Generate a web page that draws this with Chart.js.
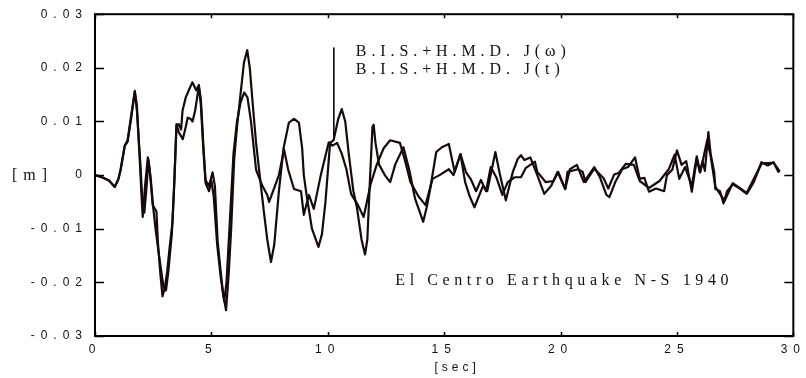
<!DOCTYPE html>
<html>
<head>
<meta charset="utf-8">
<script src="https://cdn.jsdelivr.net/npm/chart.js@4"></script>
<style>
  html, body { margin: 0; padding: 0; background: #fff; }
  #wrap { width: 806px; height: 378px; }
</style>
</head>
<body>
<div id="wrap"><canvas id="myChart"></canvas></div>
<script>
// displacement [m] vs time [sec]
const timeW = [
  0, 0.3, 0.6, 0.85, 1.0, 1.1, 1.28, 1.4, 1.55, 1.71,
  1.8, 1.92, 2.0, 2.05, 2.15, 2.27, 2.35, 2.48, 2.64, 2.7,
  2.8, 2.9, 3.0, 3.1, 3.2, 3.33, 3.42, 3.5, 3.6, 3.7,
  3.76, 3.9, 4.05, 4.18, 4.35, 4.46, 4.55, 4.65, 4.75, 4.9,
  5.05, 5.15, 5.27, 5.4, 5.5, 5.63, 5.75, 5.85, 5.98, 6.1,
  6.25, 6.4, 6.54, 6.65, 6.8, 6.92, 7.1, 7.26, 7.4, 7.56,
  7.7, 7.9, 8.1, 8.33, 8.55, 8.76, 8.9, 8.97, 9.1, 9.32,
  9.6, 9.75, 9.9, 10.1, 10.25, 10.45, 10.6, 10.75, 10.9, 11.1,
  11.25, 11.45, 11.6, 11.7, 11.8, 11.92, 11.97, 12.05, 12.2, 12.45,
  12.68, 12.9, 13.25, 13.5, 13.75, 14.1, 14.25, 14.4, 14.66, 14.9,
  15.2, 15.45, 15.7, 15.9, 16.1, 16.3, 16.67, 16.85, 17.2, 17.4,
  17.65, 17.95, 18.16, 18.3, 18.45, 18.7, 19.0, 19.3, 19.6, 19.87,
  20.2, 20.4, 20.7, 21.0, 21.45, 21.7, 21.97, 22.1, 22.35, 22.65,
  22.9, 23.2, 23.4, 23.6, 23.8, 24.1, 24.45, 24.57, 24.8, 25.0,
  25.2, 25.4, 25.64, 25.85, 25.98, 26.1, 26.2, 26.35, 26.45, 26.6,
  26.65, 26.85, 27.0, 27.15, 27.4, 27.7, 28.0, 28.3, 28.5, 28.63,
  28.9, 29.15, 29.36
];
const dispW = [
  0, -0.0004, -0.001, -0.0022, -0.0008, 0.001, 0.0055, 0.0065, 0.011, 0.0157,
  0.013, 0.003, -0.004, -0.0078, -0.002, 0.0033, 0.001, -0.0056, -0.0068, -0.0124,
  -0.018, -0.0226, -0.021, -0.018, -0.0137, -0.0087, 0, 0.0092, 0.0095, 0.0085,
  0.012, 0.0145, 0.016, 0.0173, 0.0158, 0.0168, 0.014, 0.006, -0.001, -0.002,
  0.0005, -0.002, -0.0124, -0.018, -0.022, -0.0252, -0.018, -0.01, 0.003, 0.009,
  0.015, 0.021, 0.0233, 0.02, 0.012, 0.006, -0.001, -0.007, -0.012, -0.0162,
  -0.013, -0.003, 0.005, 0.0098, 0.0105, 0.0098, 0.005, 0, -0.004, -0.01,
  -0.0134, -0.011, -0.005, 0.006, 0.0065, 0.0105, 0.0123, 0.01, 0.004, -0.003,
  -0.006, -0.012, -0.0148, -0.012, -0.002, 0.009, 0.0094, 0.006, 0.002, 0,
  -0.0013, 0.002, 0.0052, 0.001, -0.0044, -0.0087, -0.006, -0.0026, 0.0043, 0.0052,
  0.0058, 0.0006, 0.0039, -0.0013, -0.004, -0.006, -0.002, -0.003, 0.0043, 0,
  -0.0047, 0.0006, 0.003, 0.0037, 0.0028, 0.0033, 0, -0.0035, -0.002, 0.0006,
  -0.0026, 0.0011, 0.0019, -0.0013, 0.0015, -0.0005, -0.0037, -0.0041, -0.0013, 0.0011,
  0.0015, 0.0033, -0.0007, -0.0005, -0.0031, -0.0025, -0.003, 0, 0.001, 0.0046,
  0.0019, 0.0026, -0.0031, 0.003, 0.0006, 0.0025, 0.0008, 0.008, 0.0039, 0.0006,
  -0.0026, -0.003, -0.0053, -0.003, -0.0017, -0.0025, -0.0035, -0.0013, 0.0009, 0.0024,
  0.0018, 0.0024, 0.0006
];

const timeT = [
  0, 0.3, 0.6, 0.85, 1.0, 1.1, 1.28, 1.4, 1.55, 1.71,
  1.8, 1.95, 2.05, 2.12, 2.2, 2.3, 2.4, 2.5, 2.6, 2.75,
  2.95, 3.05, 3.15, 3.3, 3.4, 3.5, 3.6, 3.77, 3.9, 3.98,
  4.1, 4.19, 4.3, 4.46, 4.55, 4.65, 4.75, 4.9, 5.0, 5.1,
  5.25, 5.4, 5.55, 5.65, 5.8, 5.95, 6.1, 6.25, 6.41, 6.55,
  6.7, 6.92, 7.18, 7.4, 7.48, 7.65, 7.9, 8.12, 8.3, 8.55,
  8.85, 8.97, 9.19, 9.4, 9.7, 10.04, 10.2, 10.4, 10.6, 10.8,
  11.0, 11.3, 11.54, 11.84, 12.1, 12.4, 12.68, 13.1, 13.3, 13.55,
  13.9, 14.2, 14.5, 14.8, 15.2, 15.4, 15.7, 15.94, 16.15, 16.37,
  16.58, 16.8, 17.0, 17.25, 17.5, 17.73, 18.03, 18.3, 18.5, 18.9,
  19.0, 19.36, 19.7, 19.9, 20.2, 20.3, 20.75, 20.95, 21.07, 21.45,
  21.85, 22.05, 22.3, 22.5, 22.8, 23.15, 23.4, 23.8, 24.25, 24.65,
  24.9, 25.1, 25.35, 25.64, 25.85, 26.0, 26.3, 26.45, 26.65, 27.05,
  27.4, 28.0, 28.5, 28.65, 29.15, 29.4
];
const dispT = [
  0, -0.0004, -0.001, -0.0022, -0.0008, 0.001, 0.0055, 0.0062, 0.0105, 0.0155,
  0.012, 0.002, -0.006, -0.007, -0.003, 0.0028, -0.001, -0.006, -0.01, -0.015,
  -0.021, -0.0215, -0.018, -0.011, -0.002, 0.0095, 0.008, 0.0067, 0.009, 0.0107,
  0.0105, 0.01, 0.012, 0.0165, 0.013, 0.005, -0.0015, -0.003, -0.001, -0.004,
  -0.013, -0.019, -0.0235, -0.02, -0.008, 0.004, 0.01, 0.0135, 0.0154, 0.0145,
  0.01, 0.001, -0.0019, -0.0037, -0.005, -0.003, 0, 0.0048, 0.001, -0.0026,
  -0.003, -0.0074, -0.0037, -0.0063, 0, 0.0061, 0.0055, 0.006, 0.004, 0.0011,
  -0.0035, -0.0056, -0.0078, -0.0017, 0.0019, 0.005, 0.0065, 0.006, 0.003, -0.0013,
  -0.004, -0.0056, -0.0007, 0, 0.0011, 0, 0.0039, 0.0005, -0.0008, -0.003,
  -0.0009, -0.003, 0.0015, -0.0005, -0.0037, -0.0013, -0.0004, -0.0004, 0.0013, 0.0025,
  0.0006, -0.0013, -0.0011, 0.0006, -0.0026, 0.0006, 0.0011, 0.0006, -0.0013, 0.0012,
  -0.0006, -0.0025, 0.0001, 0.0004, 0.0021, 0.0019, -0.0011, -0.0024, -0.0011, 0.0011,
  0.0038, -0.0007, 0.0015, -0.002, 0.0035, 0.0005, 0.0065, 0.0035, -0.0022, -0.0048,
  -0.0015, -0.0033, 0.001, 0.0022, 0.0023, 0.0008
];

// the short vertical stroke next to the legend
const markT = [10.26, 10.26];
const markY = [0.0237, 0.0069];

const xTicks = [0, 5, 10, 15, 20, 25, 30];
const yTicks = [-0.03, -0.02, -0.01, 0, 0.01, 0.02, 0.03];
const seriesNames = ['B.I.S.+H.M.D. J(\u03c9)', 'B.I.S.+H.M.D. J(t)'];
const noteText = 'El Centro Earthquake N-S 1940';

const lineColor = '#160a0a';
const toPts = (ts, vs) => ts.map((t, i) => ({ x: t, y: vs[i] }));

function spaced(ctx, px) {
  if ('letterSpacing' in ctx) ctx.letterSpacing = px + 'px';
}

// frame, inward ticks and the text pieces
const decor = {
  id: 'decor',
  beforeDraw(chart) {
    spaced(chart.ctx, 6);
  },
  afterDraw(chart) {
    const { ctx, chartArea: a, scales: { x, y } } = chart;
    ctx.save();
    ctx.strokeStyle = '#000';
    ctx.lineWidth = 2;
    ctx.strokeRect(a.left, a.top, a.right - a.left, a.bottom - a.top);
    ctx.lineWidth = 1.5;
    ctx.beginPath();
    yTicks.forEach(v => {
      const py = Math.round(y.getPixelForValue(v)) + 0.5;
      ctx.moveTo(a.left, py); ctx.lineTo(a.left + 9, py);
      ctx.moveTo(a.right, py); ctx.lineTo(a.right - 9, py);
    });
    xTicks.forEach(v => {
      const px = Math.round(x.getPixelForValue(v)) + 0.5;
      ctx.moveTo(px, a.top); ctx.lineTo(px, a.top + 4);
      ctx.moveTo(px, a.bottom); ctx.lineTo(px, a.bottom - 4);
    });
    ctx.stroke();

    ctx.fillStyle = '#111';
    ctx.textBaseline = 'alphabetic';
    ctx.textAlign = 'left';
    ctx.font = '16px "Liberation Serif", "Times New Roman", serif';
    spaced(ctx, 4.9);
    const lx = x.getPixelForValue(markT[0]) + 22;
    const ly = y.getPixelForValue(markY[0]) + 8;
    ctx.fillText(seriesNames[0], lx, ly);
    ctx.fillText(seriesNames[1], lx, ly + 18);
    spaced(ctx, 4.6);
    ctx.fillText(noteText, x.getPixelForValue(12.9), y.getPixelForValue(-0.0205));

    spaced(ctx, 6);
    ctx.fillText('[m]', 12, y.getPixelForValue(0) + 5);

    ctx.font = '12px "Liberation Sans", Arial, sans-serif';
    spaced(ctx, 4);
    ctx.textAlign = 'center';
    ctx.fillText('[sec]', (a.left + a.right) / 2 + 13, 371);
    ctx.restore();
  }
};

const ctx = document.getElementById('myChart').getContext('2d');
const myChart = new Chart(ctx, {
  type: 'line',
  data: {
    datasets: [
      { label: seriesNames[0], data: toPts(timeW, dispW), borderColor: lineColor, borderWidth: 2.2 },
      { label: seriesNames[1], data: toPts(timeT, dispT), borderColor: lineColor, borderWidth: 2.2 },
      { label: 'mark', data: toPts(markT, markY), borderColor: lineColor, borderWidth: 1.6 }
    ]
  },
  options: {
    responsive: true,
    maintainAspectRatio: false,
    animation: false,
    layout: { padding: { top: 13, right: 10, left: 0, bottom: 0 } },
    elements: {
      line: { tension: 0, borderJoinStyle: 'round', borderCapStyle: 'round', fill: false },
      point: { radius: 0 }
    },
    plugins: { legend: { display: false }, tooltip: { enabled: false } },
    scales: {
      x: {
        type: 'linear',
        min: 0,
        max: 30,
        afterBuildTicks: s => { s.ticks = xTicks.map(v => ({ value: v })); },
        afterFit: s => { s.height = 42; },
        grid: { display: false, drawTicks: false },
        border: { display: false },
        ticks: {
          color: '#111',
          padding: 6,
          maxRotation: 0,
          font: { family: '"Liberation Sans", Arial, sans-serif', size: 12 },
          callback: v => String(v)
        }
      },
      y: {
        min: -0.03,
        max: 0.03,
        afterBuildTicks: s => { s.ticks = yTicks.map(v => ({ value: v })); },
        afterFit: s => { s.width = 95; },
        grid: { display: false, drawTicks: false },
        border: { display: false },
        ticks: {
          color: '#111',
          padding: 7,
          font: { family: '"Liberation Sans", Arial, sans-serif', size: 12 },
          callback: v => (Math.abs(v) < 1e-9 ? '0' : v.toFixed(2))
        }
      }
    }
  },
  plugins: [decor]
});
</script>
</body>
</html>
